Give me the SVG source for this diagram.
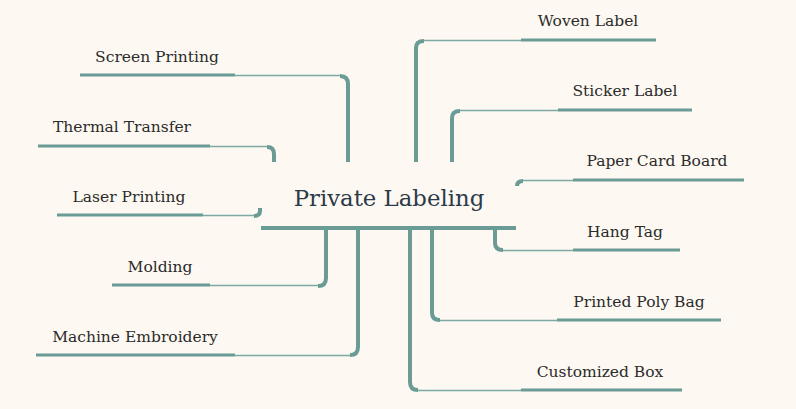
<svg xmlns="http://www.w3.org/2000/svg" width="796" height="409" viewBox="0 0 796 409">
<style>
.v{fill:none;stroke:#6b9b95;stroke-width:4;stroke-linecap:butt}
.h{fill:none;stroke:#7ea8a2;stroke-width:1.5}
.u{stroke:#6b9b95;stroke-width:3}
text{font-family:"DejaVu Serif","Liberation Serif",serif;font-size:15.5px;fill:#2b2b2b}
.c{font-size:22.8px;fill:#2c3a4a}
</style>
<rect width="796" height="409" fill="#fdf9f2"/>
<g id="connectors">
<path class="v" d="M348,162 V84 Q348,76 340,76"/><path class="h" d="M340,75.5 H235"/>
<path class="v" d="M274,162 V154 Q274,147 267,147"/><path class="h" d="M267,146.5 H210"/>
<path class="v" d="M260,208 V211 Q260,216 254,216"/><path class="h" d="M254,215.5 H203"/>
<path class="v" d="M326,228 V278 Q326,286 318,286"/><path class="h" d="M318,285.5 H210"/>
<path class="v" d="M358,228 V347 Q358,355 350,355"/><path class="h" d="M350,355.5 H235"/>
<path class="v" d="M416,162 V48 Q416,41 424,41"/><path class="h" d="M424,40.5 H521"/>
<path class="v" d="M452,162 V118 Q452,111 460,111"/><path class="h" d="M460,110.5 H558"/>
<path class="v" d="M517,186 V186 Q517,181 523,181"/><path class="h" d="M523,180.5 H573"/>
<path class="v" d="M495,228 V243 Q495,250 503,250"/><path class="h" d="M503,250.5 H573"/>
<path class="v" d="M432,228 V313 Q432,320 440,320"/><path class="h" d="M440,320.5 H557"/>
<path class="v" d="M410,228 V382 Q410,390 418,390"/><path class="h" d="M418,390.5 H521"/>
<line x1="261" y1="228" x2="516" y2="228" stroke="#6b9b95" stroke-width="4"/>
</g>
<g id="center"><text class="c" x="389" y="206" text-anchor="middle">Private Labeling</text></g>
<g id="n1"><text x="157" y="62" text-anchor="middle">Screen Printing</text><line class="u" x1="80" y1="75" x2="235" y2="75"/></g>
<g id="n2"><text x="122" y="132" text-anchor="middle">Thermal Transfer</text><line class="u" x1="38" y1="146" x2="210" y2="146"/></g>
<g id="n3"><text x="129" y="202" text-anchor="middle">Laser Printing</text><line class="u" x1="57" y1="215" x2="203" y2="215"/></g>
<g id="n4"><text x="160" y="272" text-anchor="middle">Molding</text><line class="u" x1="112" y1="285" x2="210" y2="285"/></g>
<g id="n5"><text x="135" y="342" text-anchor="middle">Machine Embroidery</text><line class="u" x1="36" y1="355" x2="235" y2="355"/></g>
<g id="n6"><text x="588" y="26" text-anchor="middle">Woven Label</text><line class="u" x1="521" y1="40" x2="656" y2="40"/></g>
<g id="n7"><text x="625" y="96" text-anchor="middle">Sticker Label</text><line class="u" x1="558" y1="110" x2="692" y2="110"/></g>
<g id="n8"><text x="657" y="166" text-anchor="middle">Paper Card Board</text><line class="u" x1="573" y1="180" x2="744" y2="180"/></g>
<g id="n9"><text x="625" y="237" text-anchor="middle">Hang Tag</text><line class="u" x1="573" y1="250" x2="680" y2="250"/></g>
<g id="n10"><text x="639" y="307" text-anchor="middle">Printed Poly Bag</text><line class="u" x1="557" y1="320" x2="721" y2="320"/></g>
<g id="n11"><text x="600" y="377" text-anchor="middle">Customized Box</text><line class="u" x1="521" y1="390" x2="682" y2="390"/></g>
</svg>
